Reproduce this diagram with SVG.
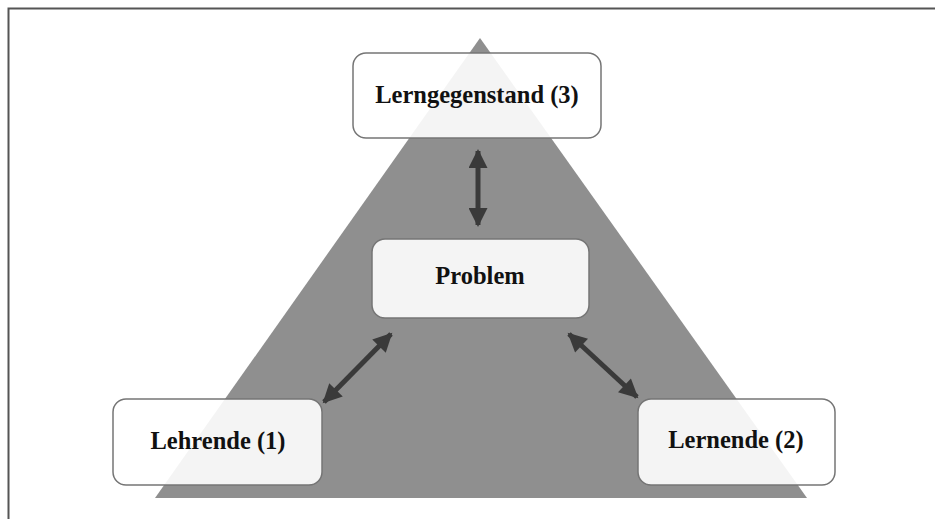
<svg xmlns="http://www.w3.org/2000/svg" width="935" height="519" viewBox="0 0 935 519">
  <style>
    .box { fill: #ffffff; fill-opacity: 0.9; stroke: #757575; stroke-width: 1.5; }
    .lbl { font-family: "Liberation Serif", "Times New Roman", serif; font-weight: bold; font-size: 24.5px; fill: #111; text-anchor: middle; }
    .conn { stroke: #3a3a3a; stroke-width: 5; fill: none; marker-start: url(#ah); marker-end: url(#ah); }
  </style>
  <defs>
    <marker id="ah" viewBox="0 0 10 10" refX="9" refY="5" markerWidth="4.2" markerHeight="3.8" orient="auto-start-reverse" markerUnits="strokeWidth">
      <path d="M0,0 L10,5 L0,10 Z" fill="#3a3a3a"/>
    </marker>
  </defs>
  <rect x="0" y="0" width="935" height="519" fill="#ffffff"/>
  <path d="M8.5,519 L8.5,8.5 L935,8.5" fill="none" stroke="#555" stroke-width="2"/>
  <polygon points="480,38 807,498 155,498" fill="#8f8f8f"/>
  <g id="connectors">
    <line class="conn" x1="478" y1="151" x2="478" y2="225"/>
    <line class="conn" x1="324" y1="402" x2="391" y2="334"/>
    <line class="conn" x1="569" y1="334" x2="637" y2="397"/>
  </g>
  <g id="lerngegenstand">
    <rect class="box" x="353" y="53" width="248" height="85" rx="13"/>
    <text class="lbl" x="477" y="103">Lerngegenstand (3)</text>
  </g>
  <g id="problem">
    <rect class="box" x="372" y="239" width="217" height="79" rx="13"/>
    <text class="lbl" x="480" y="284">Problem</text>
  </g>
  <g id="lehrende">
    <rect class="box" x="113" y="399" width="209" height="86" rx="13"/>
    <text class="lbl" x="218" y="449">Lehrende (1)</text>
  </g>
  <g id="lernende">
    <rect class="box" x="638" y="399" width="197" height="86" rx="13"/>
    <text class="lbl" x="736" y="448">Lernende (2)</text>
  </g>
</svg>
